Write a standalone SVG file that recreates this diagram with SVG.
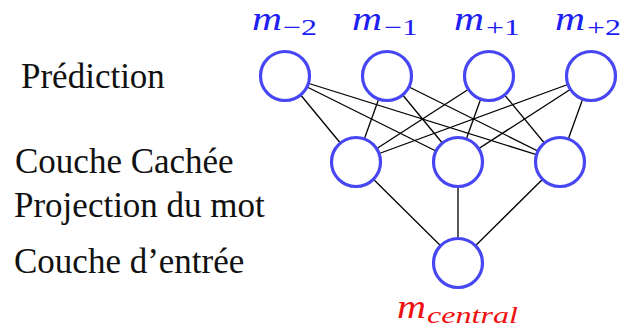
<svg xmlns="http://www.w3.org/2000/svg" width="626" height="328" viewBox="0 0 626 328">
<style>
.node{fill:#fff;stroke:#4646f2;stroke-width:3.2}
.edge{stroke:#000;stroke-width:1.3}
.lbl{font-family:'Liberation Serif','DejaVu Serif',serif;font-size:35px;fill:#111}
.m{font-family:'Liberation Serif','DejaVu Serif',serif;font-style:italic;font-size:34px}
.sub{font-family:'Liberation Serif','DejaVu Serif',serif;font-size:23px}
.blue{fill:#2020f5}
.red{fill:#f01010}
</style>
<rect width="626" height="328" fill="#fff"/>
<g id="connectors">
<line class="edge" x1="285" y1="76" x2="356" y2="162"/>
<line class="edge" x1="285" y1="76" x2="458" y2="162"/>
<line class="edge" x1="285" y1="76" x2="560" y2="162"/>
<line class="edge" x1="387" y1="76" x2="356" y2="162"/>
<line class="edge" x1="387" y1="76" x2="458" y2="162"/>
<line class="edge" x1="387" y1="76" x2="560" y2="162"/>
<line class="edge" x1="489" y1="76" x2="356" y2="162"/>
<line class="edge" x1="489" y1="76" x2="458" y2="162"/>
<line class="edge" x1="489" y1="76" x2="560" y2="162"/>
<line class="edge" x1="591" y1="76" x2="356" y2="162"/>
<line class="edge" x1="591" y1="76" x2="458" y2="162"/>
<line class="edge" x1="591" y1="76" x2="560" y2="162"/>
<line class="edge" x1="356" y1="162" x2="458" y2="263"/>
<line class="edge" x1="458" y1="162" x2="458" y2="263"/>
<line class="edge" x1="560" y1="162" x2="458" y2="263"/>
</g>
<g id="out-m2"><circle class="node" cx="285" cy="76" r="24.5"/>
<text class="m blue" x="252" y="30" textLength="30" lengthAdjust="spacingAndGlyphs">m</text>
<text class="sub blue" x="283" y="35" textLength="34" lengthAdjust="spacingAndGlyphs">−2</text></g>
<g id="out-m1"><circle class="node" cx="387" cy="76" r="24.5"/>
<text class="m blue" x="352" y="30" textLength="30" lengthAdjust="spacingAndGlyphs">m</text>
<text class="sub blue" x="384" y="35" textLength="34" lengthAdjust="spacingAndGlyphs">−1</text></g>
<g id="out-p1"><circle class="node" cx="489" cy="76" r="24.5"/>
<text class="m blue" x="454" y="30" textLength="30" lengthAdjust="spacingAndGlyphs">m</text>
<text class="sub blue" x="486" y="35" textLength="34" lengthAdjust="spacingAndGlyphs">+1</text></g>
<g id="out-p2"><circle class="node" cx="591" cy="76" r="24.5"/>
<text class="m blue" x="555" y="30" textLength="30" lengthAdjust="spacingAndGlyphs">m</text>
<text class="sub blue" x="587" y="35" textLength="34" lengthAdjust="spacingAndGlyphs">+2</text></g>
<g id="hid-1"><circle class="node" cx="356" cy="162" r="24.5"/></g>
<g id="hid-2"><circle class="node" cx="458" cy="162" r="24.5"/></g>
<g id="hid-3"><circle class="node" cx="560" cy="162" r="24.5"/></g>
<g id="input"><circle class="node" cx="458" cy="263" r="24.5"/>
<text class="m red" x="397" y="318" textLength="29" lengthAdjust="spacingAndGlyphs">m</text>
<text class="sub red" x="427" y="323" font-style="italic" textLength="91" lengthAdjust="spacingAndGlyphs">central</text></g>
<g id="labels">
<text class="lbl" x="21" y="88">Prédiction</text>
<text class="lbl" x="15" y="173">Couche Cachée</text>
<text class="lbl" x="14" y="217">Projection du mot</text>
<text class="lbl" x="14" y="273">Couche d’entrée</text>
</g>
</svg>
